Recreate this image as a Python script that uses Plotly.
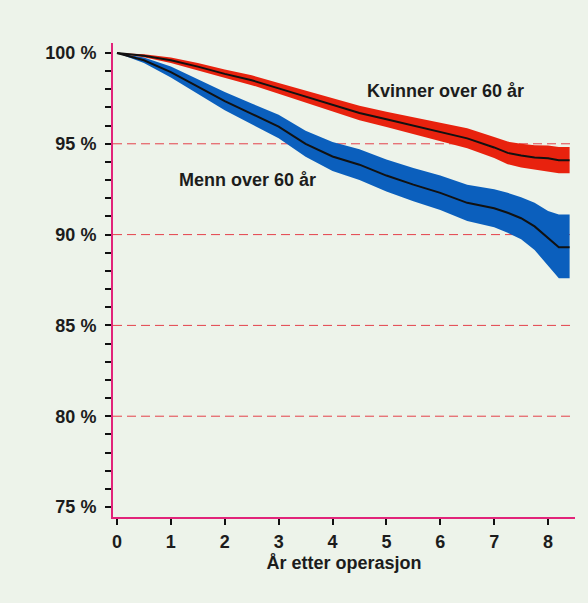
import plotly.graph_objects as go

years = [0, 0.5, 1, 1.5, 2, 2.5, 3, 3.5, 4, 4.5, 5, 5.5, 6, 6.5, 7, 7.25, 7.5, 7.75, 8, 8.2, 8.4]

women = [100, 99.85, 99.6, 99.25, 98.85, 98.5, 98.05, 97.6, 97.15, 96.7, 96.35, 96.0, 95.65, 95.3, 94.8, 94.5, 94.35, 94.25, 94.2, 94.1, 94.1]
women_lo = [100, 99.77, 99.45, 99.05, 98.61, 98.23, 97.75, 97.27, 96.79, 96.3, 95.93, 95.55, 95.15, 94.75, 94.22, 93.88, 93.7, 93.58, 93.5, 93.38, 93.38]
women_hi = [100, 99.93, 99.75, 99.45, 99.09, 98.77, 98.35, 97.93, 97.51, 97.1, 96.77, 96.45, 96.15, 95.85, 95.38, 95.12, 95.0, 94.92, 94.9, 94.82, 94.82]

men = [100, 99.6, 98.95, 98.15, 97.35, 96.65, 95.95, 95.0, 94.3, 93.85, 93.25, 92.75, 92.3, 91.75, 91.45, 91.2, 90.9, 90.45, 89.8, 89.3, 89.3]
men_lo = [100, 99.45, 98.65, 97.75, 96.85, 96.08, 95.3, 94.28, 93.5, 93.0, 92.37, 91.83, 91.35, 90.75, 90.4, 90.1, 89.75, 89.15, 88.3, 87.6, 87.6]
men_hi = [100, 99.75, 99.25, 98.55, 97.85, 97.22, 96.6, 95.72, 95.1, 94.7, 94.13, 93.67, 93.25, 92.75, 92.5, 92.3, 92.05, 91.75, 91.3, 91.1, 91.1]

grid_values = [80, 85, 90, 95]
x_ticks = [0, 1, 2, 3, 4, 5, 6, 7, 8]
y_ticks = [75, 80, 85, 90, 95, 100]
y_labels = ["<b>75 %</b>", "<b>80 %</b>", "<b>85 %</b>", "<b>90 %</b>", "<b>95 %</b>", "<b>100 %</b>"]
x_labels = ["<b>%d</b>" % v for v in x_ticks]

label_women = "Kvinner over 60 år"
label_men = "Menn over 60 år"
x_title = "År etter operasjon"

RED = "#e8220e"
BLUE = "#0b5fbd"
PINK = "#e2247a"
GRID = "#e4404a"
BG = "#edf3ea"
FONT = "Liberation Sans, Arial, sans-serif"
TXT = "#1c1c1c"

fig = go.Figure()

def band(x, lo, hi, color):
    fig.add_trace(go.Scatter(x=x, y=lo, mode="lines", line=dict(width=0, color=color),
                             hoverinfo="skip", showlegend=False))
    fig.add_trace(go.Scatter(x=x, y=hi, mode="lines", line=dict(width=0, color=color),
                             fill="tonexty", fillcolor=color, hoverinfo="skip", showlegend=False))

band(years, men_lo, men_hi, BLUE)
band(years, women_lo, women_hi, RED)
fig.add_trace(go.Scatter(x=years, y=men, mode="lines", line=dict(color="#111111", width=2), showlegend=False))
fig.add_trace(go.Scatter(x=years, y=women, mode="lines", line=dict(color="#111111", width=2), showlegend=False))

for g in grid_values:
    fig.add_shape(type="line", xref="paper", yref="y", x0=0, x1=1, y0=g, y1=g,
                  line=dict(color=GRID, width=1, dash="9px,5px"), layer="below")

fig.add_annotation(x=6.09, y=97.9, text="<b>" + label_women + "</b>", showarrow=False,
                   font=dict(family=FONT, size=18, color=TXT), xanchor="center", yanchor="middle")
fig.add_annotation(x=2.43, y=93.0, text="<b>" + label_men + "</b>", showarrow=False,
                   font=dict(family=FONT, size=18, color=TXT), xanchor="center", yanchor="middle")

fig.update_layout(
    width=588, height=603,
    margin=dict(l=113, r=13, t=43, b=86),
    paper_bgcolor=BG, plot_bgcolor=BG,
    font=dict(family=FONT, size=18, color=TXT),
    showlegend=False,
    xaxis=dict(range=[-0.074, 8.5], tickvals=x_ticks, ticktext=x_labels, showgrid=False, zeroline=False,
               showline=True, linecolor=PINK, linewidth=2,
               ticks="outside", ticklen=6, tickwidth=2, tickcolor="#111111",
               ticklabelstandoff=1,
               title=dict(text="<b>" + x_title + "</b>", standoff=6, font=dict(family=FONT, size=18)),
               tickfont=dict(family=FONT, size=18)),
    yaxis=dict(range=[74.45, 100.55], tickvals=y_ticks, ticktext=y_labels, showgrid=False, zeroline=False,
               showline=True, linecolor=PINK, linewidth=2,
               ticks="outside", ticklen=6, tickwidth=2, tickcolor="#111111",
               minor=dict(dtick=1, ticks="outside", ticklen=6, tickwidth=2, tickcolor="#111111", showgrid=False),
               ticklabelstandoff=5,
               tickfont=dict(family=FONT, size=18)),
)

fig.write_html("out.html", config={"displayModeBar": False},
               post_script="document.body.style.margin='0';document.body.style.background='%s';" % BG)
